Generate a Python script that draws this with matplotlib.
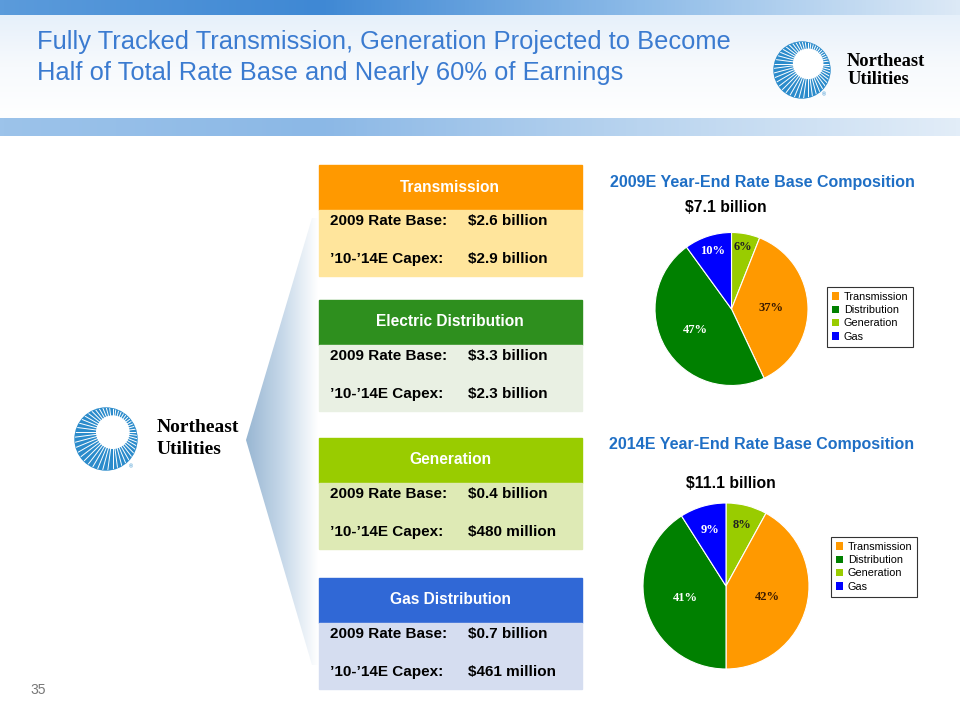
import numpy as np
import matplotlib
matplotlib.use("Agg")
import matplotlib.pyplot as plt
from matplotlib.patches import Rectangle, Polygon, Circle

plt.rcParams['font.family'] = ['Liberation Sans', 'DejaVu Sans']

# ---- data ----
title_lines = ["Fully Tracked Transmission, Generation Projected to Become",
               "Half of Total Rate Base and Nearly 60% of Earnings"]

segments = ["Transmission", "Electric Distribution", "Generation", "Gas Distribution"]
rate_base_2009 = ["$2.6 billion", "$3.3 billion", "$0.4 billion", "$0.7 billion"]
capex_10_14 = ["$2.9 billion", "$2.3 billion", "$480 million", "$461 million"]

pie_labels = ["Generation", "Transmission", "Distribution", "Gas"]
share_2009 = [6, 37, 47, 10]
share_2014 = [8, 42, 41, 9]
total_2009 = "$7.1 billion"
total_2014 = "$11.1 billion"
legend_order = ["Transmission", "Distribution", "Generation", "Gas"]

# ---- styles ----
W, H = 960, 720
pie_colors = {"Generation": "#99CC00", "Transmission": "#FF9900",
              "Distribution": "#008000", "Gas": "#0000FF"}
pct_colors = {"Generation": "#222222", "Transmission": "#3a1a00",
              "Distribution": "white", "Gas": "white"}
head_colors = ["#FF9900", "#2E8F1E", "#99CC00", "#3068D6"]
body_colors = ["#FFE59C", "#E9F0E3", "#DEEAB5", "#D5DDF0"]
box_tops = [165, 300, 438, 578]

fig = plt.figure(figsize=(9.6, 7.2), dpi=100)
bg = fig.add_axes([0, 0, 1, 1])
bg.set_xlim(0, W)
bg.set_ylim(H, 0)
bg.axis("off")

# header bands
grad = np.linspace(0, 1, 256)[None, :]
top_cmap = matplotlib.colors.LinearSegmentedColormap.from_list("t", ["#5B9BDB", "#3F88D4", "#8DBBE8", "#DCE9F6"])
bg.imshow(grad, extent=(0, W, 15, 0), cmap=top_cmap, aspect="auto")
mid_cmap = matplotlib.colors.LinearSegmentedColormap.from_list("m", ["#E6F0FA", "#F7FAFD", "#FFFFFF"])
bg.imshow(np.linspace(0, 1, 256)[:, None], extent=(0, W, 118, 15), cmap=mid_cmap, aspect="auto")
bot_cmap = matplotlib.colors.LinearSegmentedColormap.from_list("b", ["#9CC3EA", "#8BB8E6", "#B9D4EF", "#E2EDF8"])
bg.imshow(grad, extent=(0, W, 136, 118), cmap=bot_cmap, aspect="auto")
for i, line in enumerate(title_lines):
    bg.text(37, 42 + i * 31, line, fontsize=18.4, color="#3B7BD0", va="center", ha="left")


def draw_logo(cx, cy, r, tx, fs, dy):
    disc = Circle((cx, cy), r, color="#2B8BCB", zorder=3)
    bg.add_patch(disc)
    hx, hy = cx + 0.22 * r, cy - 0.22 * r
    for a in np.linspace(0, 2 * np.pi, 48, endpoint=False):
        ln, = bg.plot([hx, hx + 2 * r * np.cos(a)], [hy, hy + 2 * r * np.sin(a)],
                      color="white", lw=0.7, zorder=4)
        ln.set_clip_path(disc)
    bg.add_patch(Circle((hx, hy), 0.52 * r, color="white", zorder=5))
    bg.text(cx + 0.8 * r, cy + 0.9 * r, "\u00ae", fontsize=4, color="#2B8BCB",
            ha="center", va="center", zorder=6)
    bg.text(tx, cy - dy, "Northeast", fontsize=fs, fontweight="bold",
            family="Liberation Serif", va="center", ha="left", zorder=6)
    bg.text(tx, cy + dy, "Utilities", fontsize=fs, fontweight="bold",
            family="Liberation Serif", va="center", ha="left", zorder=6)


draw_logo(802, 70, 28, 847, 13.3, 9)
draw_logo(106, 439, 31, 157, 14, 11)

# chevron with gradient
chev = Polygon([(246, 440), (312, 218), (318, 218), (318, 665), (312, 665)],
               closed=True, fc="none", ec="none")
bg.add_patch(chev)
chev_cmap = matplotlib.colors.LinearSegmentedColormap.from_list("c", ["#98B6D2", "#C6D8E9", "#FFFFFF"])
im = bg.imshow(grad, extent=(246, 318, 665, 218), cmap=chev_cmap, aspect="auto", zorder=1)
im.set_clip_path(chev)

# segment boxes
for i, name in enumerate(segments):
    t = box_tops[i]
    bg.add_patch(Rectangle((319, t), 263, 45, color=head_colors[i], zorder=2))
    bg.add_patch(Rectangle((319, t + 45), 263, 66, color=body_colors[i], zorder=2))
    bg.text(450, t + 22, name, color="white", fontsize=11.2, fontweight="bold",
            ha="center", va="center", zorder=3)
    bg.text(330, t + 56, "2009 Rate Base:", fontsize=11, fontweight="bold", va="center", zorder=3)
    bg.text(468, t + 56, rate_base_2009[i], fontsize=11, fontweight="bold", va="center", zorder=3)
    bg.text(330, t + 94, "\u201910-\u201914E Capex:", fontsize=11, fontweight="bold", va="center", zorder=3)
    bg.text(468, t + 94, capex_10_14[i], fontsize=11, fontweight="bold", va="center", zorder=3)

bg.text(30, 690, "35", fontsize=10, color="#777777", va="center")


def draw_pie(values, cx, cy, r, dists, title, ty, total, sx, sy, leg_xy):
    ax = fig.add_axes([(cx - r) / W, 1 - (cy + r) / H, 2 * r / W, 2 * r / H])
    wedges, _ = ax.pie(values, colors=[pie_colors[k] for k in pie_labels],
                       startangle=90, counterclock=False,
                       wedgeprops=dict(edgecolor="white", linewidth=0.8))
    for w, v, k, d in zip(wedges, values, pie_labels, dists):
        a = np.deg2rad((w.theta1 + w.theta2) / 2)
        ax.text(d * np.cos(a), d * np.sin(a), f"{v}%", ha="center", va="center",
                fontsize=9, fontweight="bold", family="Liberation Serif",
                color=pct_colors[k])
    ax.set_xlim(-1, 1)
    ax.set_ylim(-1, 1)
    ax.set_aspect("auto")
    bg.text(762, ty, title, fontsize=11.5, fontweight="bold", color="#1F6FC5",
            ha="center", va="center")
    bg.text(sx, sy, total, fontsize=11.3, fontweight="bold", ha="center", va="center")
    handles = [wedges[pie_labels.index(k)] for k in legend_order]
    leg = fig.legend(handles, legend_order, loc="upper left",
                     bbox_to_anchor=(leg_xy[0] / W, 1 - leg_xy[1] / H),
                     fontsize=7.8, frameon=True, fancybox=False, edgecolor="black",
                     handlelength=0.7, handleheight=0.7, handletextpad=0.4,
                     labelspacing=0.3, borderpad=0.45, borderaxespad=0)
    leg.get_frame().set_linewidth(0.8)
    for h in leg.legend_handles:
        h.set_edgecolor("none")


draw_pie(share_2009, 731.5, 309, 76.5, [0.82, 0.52, 0.55, 0.8],
         "2009E Year-End Rate Base Composition", 182, total_2009, 726, 207, (827, 287))
draw_pie(share_2014, 726, 586, 83, [0.76, 0.52, 0.51, 0.7],
         "2014E Year-End Rate Base Composition", 444, total_2014, 731, 483, (831, 537))

fig.savefig("out.png", dpi=100)
